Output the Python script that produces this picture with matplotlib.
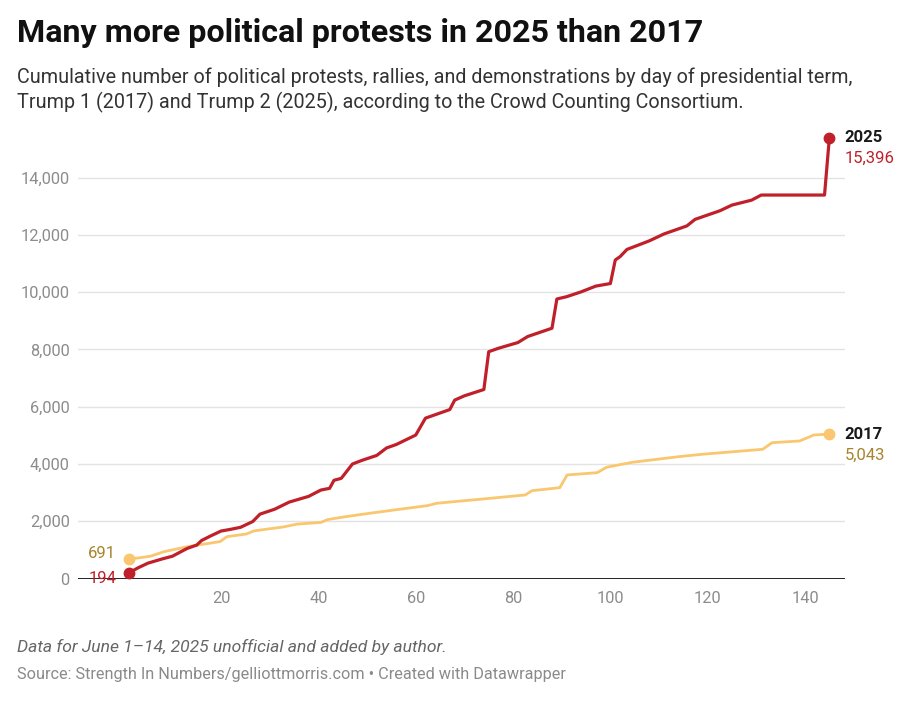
import matplotlib
matplotlib.use('Agg')
import matplotlib.pyplot as plt

plt.rcParams['font.family'] = ['Roboto', 'DejaVu Sans']

# cumulative protests by day of term
days_2025 = [1, 3, 5, 8, 10, 13, 15, 16, 18, 20, 22, 24, 26.5, 28, 31, 34, 38, 40.5, 42.3,
             43.2, 44.7, 47, 49, 52, 54, 56, 60, 62, 65, 67, 68, 70, 74, 75, 77, 81, 83,
             88, 89, 91, 94, 97, 100, 101, 102, 103.4, 108, 111, 115.7, 117.4, 122.5,
             125, 129, 131, 144, 145]
vals_2025 = [194, 380, 540, 690, 780, 1050, 1170, 1330, 1500, 1660, 1720, 1790, 1990, 2250,
             2420, 2670, 2870, 3090, 3150, 3430, 3500, 4000, 4130, 4300, 4560, 4680, 5010,
             5600, 5780, 5900, 6230, 6380, 6600, 7920, 8040, 8240, 8450, 8740, 9760, 9840,
             10010, 10210, 10300, 11120, 11240, 11490, 11790, 12030, 12310, 12540, 12840,
             13040, 13210, 13389, 13389, 15396]

days_2017 = [1, 3, 5.5, 8.3, 13, 19.8, 21.2, 25.2, 26.8, 32.7, 35.6, 40.5, 41.9, 45.2, 49,
             56.6, 62.4, 64.3, 73.8, 82.5, 83.9, 89.6, 91.1, 97.3, 99.2, 104.5, 114, 118.8,
             131.3, 133.2, 138.9, 141.8, 145]
vals_2017 = [691, 720, 780, 940, 1110, 1290, 1463, 1556, 1665, 1800, 1900, 1960, 2060, 2150,
             2244, 2418, 2545, 2628, 2778, 2918, 3068, 3173, 3616, 3697, 3885, 4059, 4255,
             4338, 4513, 4743, 4803, 5012, 5043]

yticks = [0, 2000, 4000, 6000, 8000, 10000, 12000, 14000]
xticks = [20, 40, 60, 80, 100, 120, 140]

red = '#c0202a'
yellow = '#f9c76f'
gold = '#a8842c'

fig = plt.figure(figsize=(9.07, 7.06), dpi=100)
ax = fig.add_axes([0.086, 0.1805, 0.8456, 0.637])

for y in yticks[1:]:
    ax.axhline(y, color='#e3e3e3', lw=1, zorder=1)
ax.axhline(0, color='#222222', lw=1.4, zorder=4)

ax.plot(days_2017, vals_2017, color=yellow, lw=2.0, zorder=2, solid_joinstyle='round')
ax.plot(days_2025, vals_2025, color=red, lw=2.3, zorder=3, solid_joinstyle='round')
ax.plot([days_2017[0], days_2017[-1]], [vals_2017[0], vals_2017[-1]], 'o', color=yellow,
        ms=7.5, zorder=5, clip_on=False)
ax.plot([days_2025[0], days_2025[-1]], [vals_2025[0], vals_2025[-1]], 'o', color=red,
        ms=7.5, zorder=6, clip_on=False)

ax.set_xlim(-9.4, 148.2)
ax.set_ylim(0, 15700)
ax.set_yticks(yticks)
ax.set_yticklabels(['{:,}'.format(v) for v in yticks])
ax.set_xticks(xticks)
ax.tick_params(length=0, labelsize=11.8, labelcolor='#8c8c8c')
ax.tick_params(axis='y', pad=6)
ax.tick_params(axis='x', pad=9)
for s in ax.spines.values():
    s.set_visible(False)

# end labels
ax.annotate('2025', (days_2025[-1], vals_2025[-1]), xytext=(11, 0), textcoords='offset points',
            ha='left', va='center', fontsize=12, fontweight='bold', color='#1a1a1a')
ax.annotate('{:,}'.format(vals_2025[-1]), (days_2025[-1], vals_2025[-1]), xytext=(11, -15),
            textcoords='offset points', ha='left', va='center', fontsize=12, color=red)
ax.annotate('2017', (days_2017[-1], vals_2017[-1]), xytext=(11, 0), textcoords='offset points',
            ha='left', va='center', fontsize=12, fontweight='bold', color='#1a1a1a')
ax.annotate('{:,}'.format(vals_2017[-1]), (days_2017[-1], vals_2017[-1]), xytext=(11, -15),
            textcoords='offset points', ha='left', va='center', fontsize=12, color=gold)
ax.annotate('{:,}'.format(vals_2017[0]), (days_2017[0], vals_2017[0]), xytext=(-9, 4),
            textcoords='offset points', ha='right', va='center', fontsize=12, color=gold)
ax.annotate('{:,}'.format(vals_2025[0]), (days_2025[0], vals_2025[0]), xytext=(-9, -4),
            textcoords='offset points', ha='right', va='center', fontsize=12, color=red,
            zorder=7)

# title block
fig.text(17 / 907, 1 - 33 / 706, 'Many more political protests in 2025 than 2017',
         fontsize=23.2, fontweight='bold', color='#111111', va='center', ha='left')
fig.text(17 / 907, 1 - 90 / 706,
         'Cumulative number of political protests, rallies, and demonstrations by day of presidential term,\n'
         'Trump 1 (2017) and Trump 2 (2025), according to the Crowd Counting Consortium.',
         fontsize=14.2, color='#333333', va='center', ha='left', linespacing=1.3)

# notes
fig.text(17 / 907, 1 - 647 / 706, 'Data for June 1\u201314, 2025 unofficial and added by author.',
         fontsize=12.6, style='italic', color='#666666', va='center', ha='left')
fig.text(17 / 907, 1 - 675 / 706,
         'Source: Strength In Numbers/gelliottmorris.com \u2022 Created with Datawrapper',
         fontsize=11.7, color='#8a8a8a', va='center', ha='left')

plt.savefig('out.png', dpi=100)
